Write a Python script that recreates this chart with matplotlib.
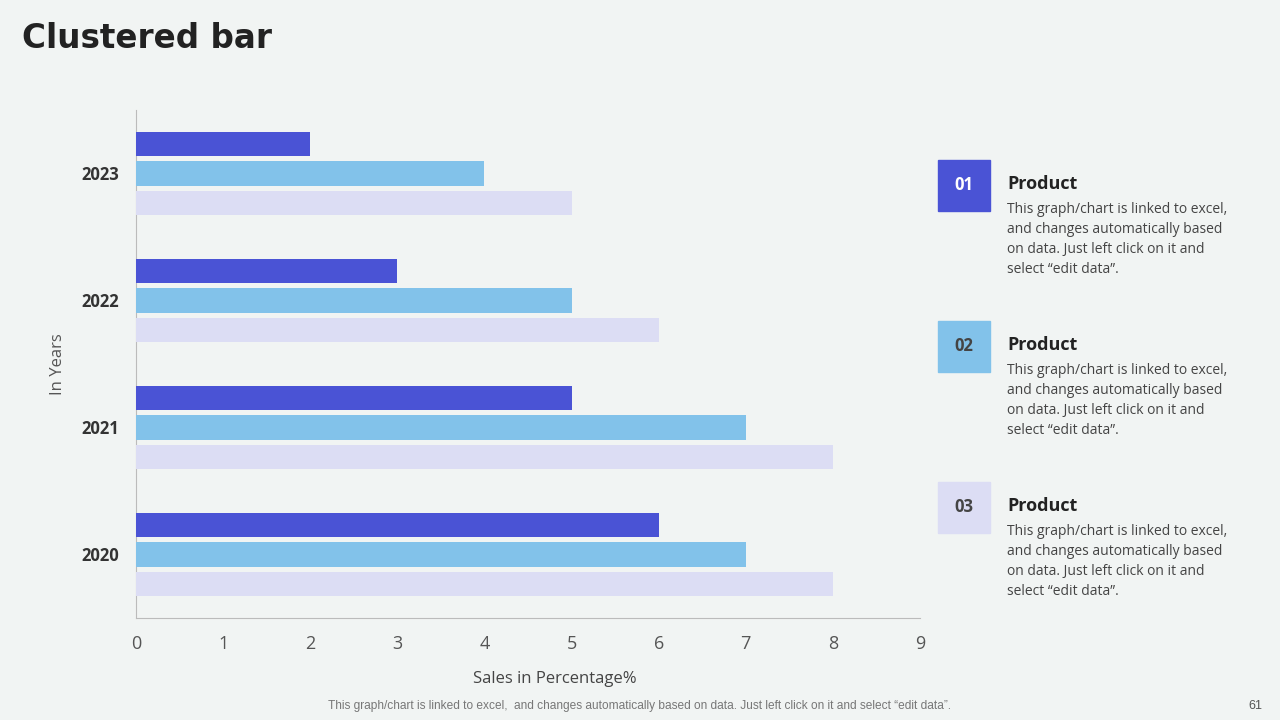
import matplotlib.pyplot as plt
from matplotlib.patches import Rectangle
import numpy as np

# data
years = ["2020", "2021", "2022", "2023"]
product1 = [6, 5, 3, 2]
product2 = [7, 7, 5, 4]
product3 = [8, 8, 6, 5]
xticks = list(range(0, 10))

colors = ["#4A53D5", "#82C2EA", "#DCDDF4"]
bg = "#F1F4F3"
desc = ("This graph/chart is linked to excel,\nand changes automatically based\n"
        "on data. Just left click on it and\nselect \u201cedit data\u201d.")

fig = plt.figure(figsize=(12.8, 7.2), dpi=100)
fig.patch.set_facecolor(bg)

ax = fig.add_axes([0.10625, 0.1417, 0.6125, 0.7056])
ax.set_facecolor(bg)

y = np.arange(len(years))
h = 0.19
off = 0.232
ax.barh(y + off, product1, height=h, color=colors[0], zorder=3)
ax.barh(y, product2, height=h, color=colors[1], zorder=3)
ax.barh(y - off, product3, height=h, color=colors[2], zorder=3)

ax.set_xlim(0, 9)
ax.set_ylim(-0.5, 3.5)
ax.set_xticks(xticks)
ax.set_xticklabels([str(t) for t in xticks], fontsize=13, color="#555555", family="Open Sans")
ax.set_yticks(y)
ax.set_yticklabels(years, fontsize=12, fontweight="bold", color="#333333", family="Open Sans")
ax.tick_params(axis="both", length=0)
ax.tick_params(axis="x", pad=12)
ax.tick_params(axis="y", pad=12)
for s in ["top", "right"]:
    ax.spines[s].set_visible(False)
ax.spines["left"].set_color("#BBBBBB")
ax.spines["bottom"].set_color("#BBBBBB")
ax.set_xlabel("Sales in Percentage%", fontsize=12, color="#444444", family="Open Sans")
ax.xaxis.set_label_coords((555 - 136) / 784, -(679 - 618) / 508, transform=ax.transAxes)
ax.xaxis.label.set_va("center")
ax.set_ylabel("In Years", fontsize=12, color="#555555", family="Open Sans")
ax.yaxis.set_label_coords(-(136 - 58) / 784, 0.5, transform=ax.transAxes)
ax.yaxis.label.set_va("center")

# title
fig.text(22 / 1280, 1 - 38 / 720, "Clustered bar", fontsize=23.5, fontweight="bold",
         color="#222222", family="DejaVu Sans", va="center", ha="left")

# side panels
tops = [160, 321, 482]
num_colors = ["white", "#444444", "#444444"]
for i, t in enumerate(tops):
    fig.patches.append(Rectangle((938 / 1280, 1 - (t + 51) / 720), 52 / 1280, 51 / 720,
                                 transform=fig.transFigure, color=colors[i], zorder=1))
    fig.text(964 / 1280, 1 - (t + 25) / 720, f"0{i + 1}", fontsize=12, fontweight="bold",
             color=num_colors[i], ha="center", va="center", family="Open Sans")
    fig.text(1007 / 1280, 1 - (t + 24) / 720, "Product", fontsize=13, fontweight="bold",
             color="#222222", ha="left", va="center", family="Open Sans")
    fig.text(1007 / 1280, 1 - (t + 42) / 720, desc, fontsize=10, color="#444444",
             ha="left", va="top", family="Open Sans", linespacing=1.45)

# footer
fig.text(640 / 1280, 1 - 706 / 720,
         "This graph/chart is linked to excel,  and changes automatically based on data. Just left click on it and select \u201cedit data\u201d.",
         fontsize=8.6, color="#777777", ha="center", va="center", family="Liberation Sans")
fig.text(1255 / 1280, 1 - 706 / 720, "61", fontsize=9, color="#555555", ha="center", va="center",
         family="Liberation Sans")

fig.savefig("out.png", dpi=100, facecolor=bg)
